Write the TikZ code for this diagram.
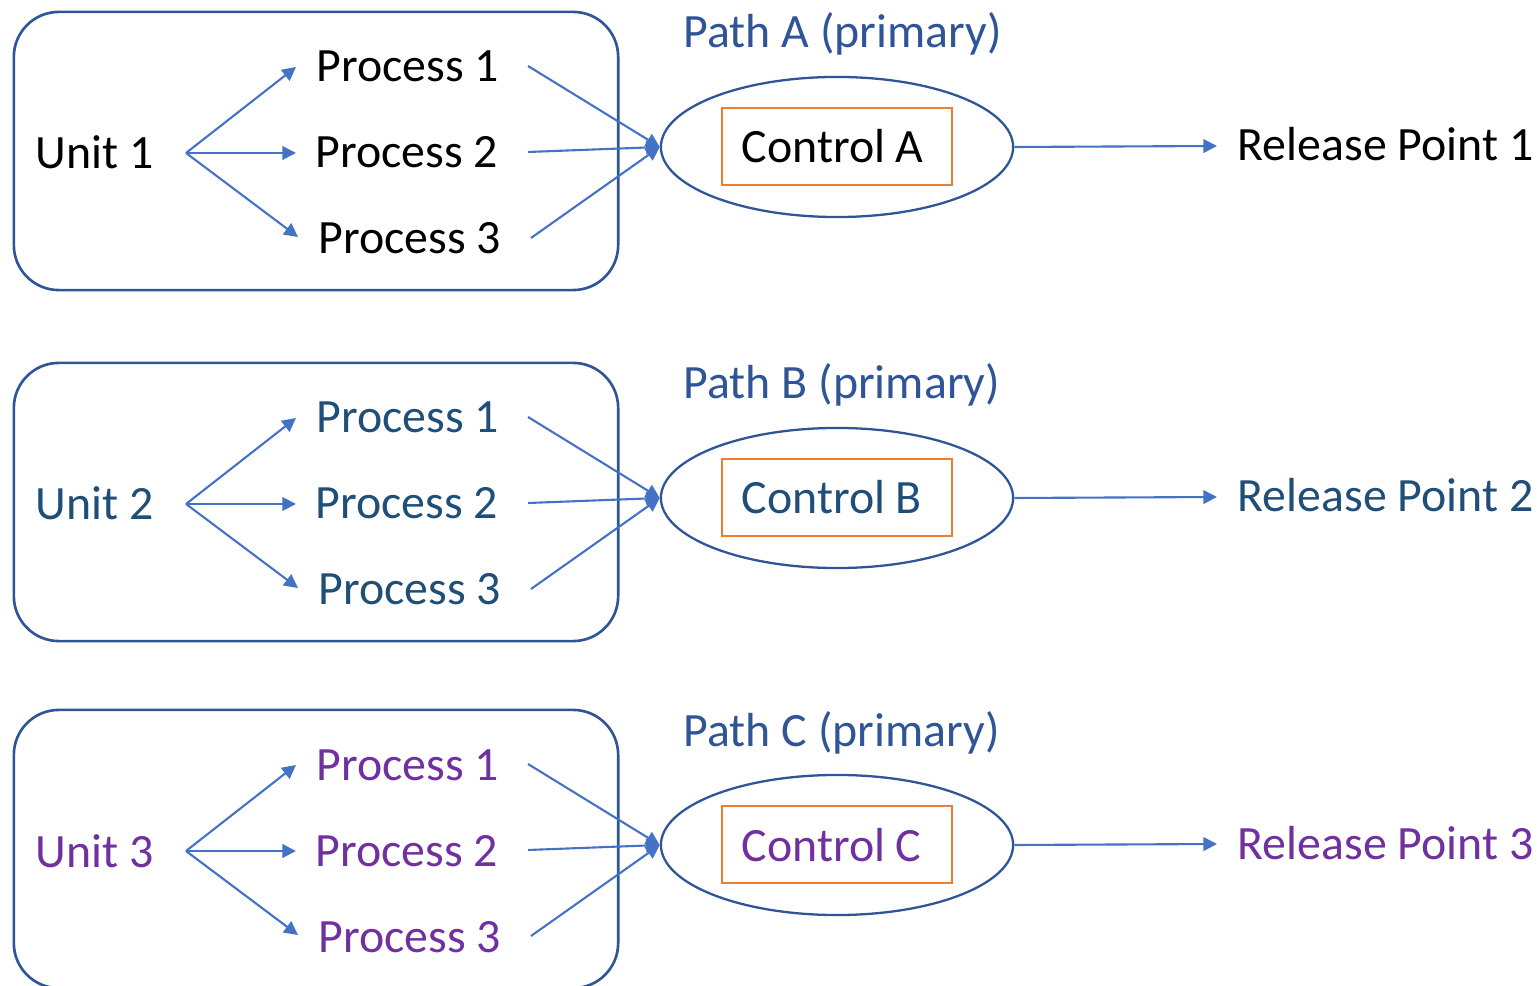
\documentclass[tikz,border=0pt]{standalone}
\usepackage{fontspec}
\setmainfont{Carlito}
\usetikzlibrary{shapes.geometric,arrows.meta}

\definecolor{frameblue}{HTML}{2F5597}
\definecolor{arrowblue}{HTML}{4472C4}
\definecolor{ctrlorange}{HTML}{ED7D31}
\definecolor{rowtwo}{HTML}{1F4E79}
\definecolor{rowthree}{HTML}{7030A0}

\tikzset{
  lbl/.style={inner sep=0pt, anchor=base west, font=\fontsize{13.6pt}{16pt}\selectfont},
  unitbox/.style={draw=frameblue, line width=0.75pt, rounded corners=12.8pt,
    minimum width=6.04cm, minimum height=2.78cm, inner sep=0pt},
  ctrlell/.style={ellipse, draw=frameblue, line width=0.65pt,
    minimum width=3.52cm, minimum height=1.40cm, inner sep=0pt},
  ctrlbox/.style={draw=ctrlorange, line width=0.6pt, minimum width=2.30cm,
    minimum height=0.77cm, inner sep=0pt},
  flow/.style={draw=arrowblue, line width=0.6pt,
    -{Triangle[length=3.9pt,width=3.9pt]}},
}

\begin{document}
\begin{tikzpicture}[x={(0.01cm,0)}, y={(0,-0.01cm)}]
  \useasboundingbox (0,0) rectangle (1540,986);
  \clip (0,0) rectangle (1540,986);

  \foreach \dy/\L/\n/\c in {0/A/1/black, 351/B/2/rowtwo, 698/C/3/rowthree} {
    % unit container
    \node[unitbox] (box\n) at (316,151+\dy) {};

    % texts
    \node[lbl, text=\c] (unit\n) at (35,169+\dy) {Unit \n};
    \node[lbl, text=\c] (pa\n) at (316,82+\dy) {Process 1};
    \node[lbl, text=\c] (pb\n) at (315,168+\dy) {Process 2};
    \node[lbl, text=\c] (pc\n) at (318,254+\dy) {Process 3};
    \node[lbl, text=frameblue] (path\n) at (683,48+\dy) {Path \L\ (primary)};
    \node[lbl, text=\c] (rel\n) at (1237,161+\dy) {Release Point \n};

    % control ellipse with its boxed label
    \node[ctrlell] (ell\n) at (837,147+\dy) {};
    \node[ctrlbox] (ctrl\n) at (837,146.5+\dy) {};
    \node[lbl, text=\c] (ctrltxt\n) at (741,163+\dy) {Control \L};

    % connector ends
    \coordinate (fan\n) at (186,153+\dy);
    \coordinate (ina\n) at (296,67+\dy);
    \coordinate (inb\n) at (296,153+\dy);
    \coordinate (inc\n) at (298,237+\dy);
    \coordinate (outa\n) at (528,66+\dy);
    \coordinate (outb\n) at (528,152+\dy);
    \coordinate (outc\n) at (531,238+\dy);
    \coordinate (relin\n) at (1217,146+\dy);

    % unit fans out to its processes
    \draw[flow] (fan\n) -- (ina\n);
    \draw[flow] (fan\n) -- (inb\n);
    \draw[flow] (fan\n) -- (inc\n);

    % processes converge on the control
    \draw[flow] (outa\n) -- (ell\n.west);
    \draw[flow] (outb\n) -- (ell\n.west);
    \draw[flow] (outc\n) -- (ell\n.west);

    % control to release point
    \draw[flow] (ell\n.east) -- (relin\n);
  }
\end{tikzpicture}
\end{document}
